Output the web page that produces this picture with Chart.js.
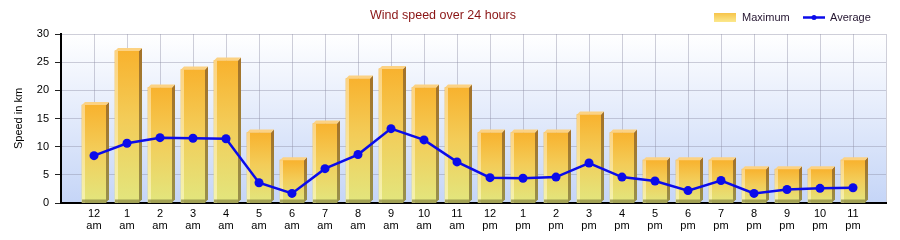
<!DOCTYPE html>
<html>
<head>
<meta charset="utf-8">
<title>Wind speed over 24 hours</title>
<script src="https://cdn.jsdelivr.net/npm/chart.js@4.4.1/dist/chart.umd.min.js"></script>
<style>
  html, body { margin: 0; padding: 0; background: #fff; }
  #wrap { width: 900px; height: 240px; }
</style>
</head>
<body>
<div id="wrap"><canvas id="windChart"></canvas></div>
<script>
  // Hour labels (two lines each)
  const hourLabels = [
    ['12', 'am'], ['1', 'am'], ['2', 'am'], ['3', 'am'], ['4', 'am'], ['5', 'am'],
    ['6', 'am'], ['7', 'am'], ['8', 'am'], ['9', 'am'], ['10', 'am'], ['11', 'am'],
    ['12', 'pm'], ['1', 'pm'], ['2', 'pm'], ['3', 'pm'], ['4', 'pm'], ['5', 'pm'],
    ['6', 'pm'], ['7', 'pm'], ['8', 'pm'], ['9', 'pm'], ['10', 'pm'], ['11', 'pm']
  ];

  // Maximum speed (bars)
  const maxSpeed = [17.4, 27.0, 20.5, 23.7, 25.3, 12.5, 7.6, 14.1, 22.1, 23.8, 20.5, 20.5,
                    12.5, 12.5, 12.5, 15.7, 12.5, 7.6, 7.6, 7.6, 6.0, 6.0, 6.0, 7.6];

  // Average speed (line)
  const avgSpeed = [8.4, 10.6, 11.6, 11.5, 11.4, 3.6, 1.7, 6.1, 8.6, 13.2, 11.2, 7.3,
                    4.5, 4.4, 4.6, 7.1, 4.6, 3.9, 2.2, 4.0, 1.7, 2.4, 2.6, 2.7];

  const yTicks = [0, 5, 10, 15, 20, 25, 30];

  const LINE_BLUE = '#0b0bea';

  Chart.defaults.font.family = '"Liberation Sans", Arial, sans-serif';
  Chart.defaults.font.size = 11;
  Chart.defaults.color = '#000';

  // gradient per bar: orange on top, pale yellow at the bottom
  function barGradient(context) {
    const chart = context.chart;
    if (!chart.chartArea || context.type !== 'data') return '#f4c04a';
    const yScale = chart.scales.y;
    const top = yScale.getPixelForValue(maxSpeed[context.dataIndex]);
    const base = yScale.getPixelForValue(0);
    const g = chart.ctx.createLinearGradient(0, top, 0, base);
    g.addColorStop(0, '#f8b22e');
    g.addColorStop(0.45, '#f3cc58');
    g.addColorStop(1, '#e2e67e');
    return g;
  }

  // plot area background
  const plotBackground = {
    id: 'plotBackground',
    beforeDraw(chart) {
      const { ctx, chartArea: a } = chart;
      ctx.save();
      const g = ctx.createLinearGradient(0, a.top, 0, a.bottom);
      g.addColorStop(0, '#ffffff');
      g.addColorStop(1, '#c5d5f7');
      ctx.fillStyle = g;
      ctx.fillRect(a.left, a.top, a.right - a.left, a.bottom - a.top);
      ctx.restore();
    }
  };

  // 3D look for the bars: side face, top cap, left highlight, base band
  const bar3d = {
    id: 'bar3d',
    afterDatasetDraw(chart, args) {
      if (chart.data.datasets[args.index].type !== 'bar') return;
      const ctx = chart.ctx;
      const d = 3;
      ctx.save();
      args.meta.data.forEach(bar => {
        const { x, y, base, width } = bar.getProps(['x', 'y', 'base', 'width'], true);
        const l = x - width / 2, r = x + width / 2;

        // side face
        const sg = ctx.createLinearGradient(0, y, 0, base);
        sg.addColorStop(0, '#a47329');
        sg.addColorStop(1, '#98914c');
        ctx.fillStyle = sg;
        ctx.beginPath();
        ctx.moveTo(r, y);
        ctx.lineTo(r + d, y - d);
        ctx.lineTo(r + d, base - d);
        ctx.lineTo(r, base);
        ctx.closePath();
        ctx.fill();

        // top cap
        ctx.fillStyle = '#fcd283';
        ctx.beginPath();
        ctx.moveTo(l, y);
        ctx.lineTo(l + d, y - d);
        ctx.lineTo(r + d, y - d);
        ctx.lineTo(r, y);
        ctx.closePath();
        ctx.fill();

        // left highlight
        const hg = ctx.createLinearGradient(0, y, 0, base);
        hg.addColorStop(0, 'rgba(253,215,140,0.9)');
        hg.addColorStop(1, 'rgba(246,244,180,0.9)');
        ctx.fillStyle = hg;
        ctx.fillRect(l, y, 3, base - y);

        // base band
        ctx.fillStyle = 'rgba(140,138,70,0.75)';
        ctx.fillRect(l, base - 3, width, 3);
      });
      ctx.restore();
    }
  };

  // legend on the title row, right side
  const legendRight = {
    id: 'legendRight',
    afterDraw(chart) {
      const ctx = chart.ctx;
      const dsBar = chart.data.datasets[1];
      const dsLine = chart.data.datasets[0];
      const y = 17.5;
      ctx.save();
      ctx.font = '11px "Liberation Sans", Arial, sans-serif';
      ctx.textBaseline = 'middle';
      ctx.textAlign = 'left';

      const g = ctx.createLinearGradient(0, 13, 0, 22);
      g.addColorStop(0, '#f7c44a');
      g.addColorStop(1, '#fbe88c');
      ctx.fillStyle = g;
      ctx.fillRect(714, 13, 22, 9);
      ctx.fillStyle = '#241530';
      ctx.fillText(dsBar.label, 742, y);

      ctx.strokeStyle = LINE_BLUE;
      ctx.lineWidth = 2.5;
      ctx.beginPath();
      ctx.moveTo(803, y);
      ctx.lineTo(825, y);
      ctx.stroke();
      ctx.fillStyle = LINE_BLUE;
      ctx.beginPath();
      ctx.arc(814, y, 2.5, 0, Math.PI * 2);
      ctx.fill();
      ctx.fillStyle = '#241530';
      ctx.fillText(dsLine.label, 830, y);
      ctx.restore();
    }
  };

  new Chart(document.getElementById('windChart'), {
    data: {
      datasets: [{
        type: 'line',
        label: 'Average',
        data: avgSpeed.map((v, i) => ({ x: i, y: v })),
        borderColor: LINE_BLUE,
        backgroundColor: LINE_BLUE,
        borderWidth: 2.5,
        pointRadius: 4.5,
        pointBackgroundColor: LINE_BLUE,
        pointBorderWidth: 0,
        tension: 0,
        order: 0
      }, {
        type: 'bar',
        label: 'Maximum',
        data: maxSpeed.map((v, i) => ({ x: i, y: v })),
        backgroundColor: barGradient,
        borderWidth: 0,
        barThickness: 24,
        order: 1
      }]
    },
    options: {
      responsive: true,
      maintainAspectRatio: false,
      animation: false,
      layout: { padding: { left: 0, right: 14, top: 0, bottom: 0 } },
      plugins: {
        legend: { display: false },
        tooltip: { enabled: false },
        title: {
          display: true,
          text: 'Wind speed over 24 hours',
          color: '#8a1414',
          font: { size: 12.5, weight: 'normal' },
          padding: { top: 8, bottom: 11 }
        }
      },
      scales: {
        x: {
          type: 'linear',
          offset: false,
          min: -1,
          max: hourLabels.length,
          afterFit: s => { s.height = 37; },
          ticks: {
            stepSize: 1,
            autoSkip: false,
            maxRotation: 0,
            padding: 5,
            font: { size: 11, lineHeight: 1.1 },
            color: '#000',
            callback: v => hourLabels[v] || ''
          },
          grid: {
            offset: false,
            color: 'rgba(140,140,165,0.42)',
            drawTicks: false
          },
          border: { color: '#000', width: 2 }
        },
        y: {
          min: 0,
          max: 30,
          afterFit: s => { s.width = 61; },
          afterBuildTicks: s => { s.ticks = yTicks.map(v => ({ value: v })); },
          ticks: { padding: 6, color: '#000', font: { size: 11 } },
          grid: {
            color: 'rgba(140,140,165,0.42)',
            tickLength: 6,
            tickColor: '#222'
          },
          border: { color: '#000', width: 2 },
          title: {
            display: true,
            text: 'Speed in km',
            color: '#000',
            font: { size: 11 },
            padding: { top: 12, bottom: 0 }
          }
        }
      }
    },
    plugins: [plotBackground, bar3d, legendRight]
  });
</script>
</body>
</html>
